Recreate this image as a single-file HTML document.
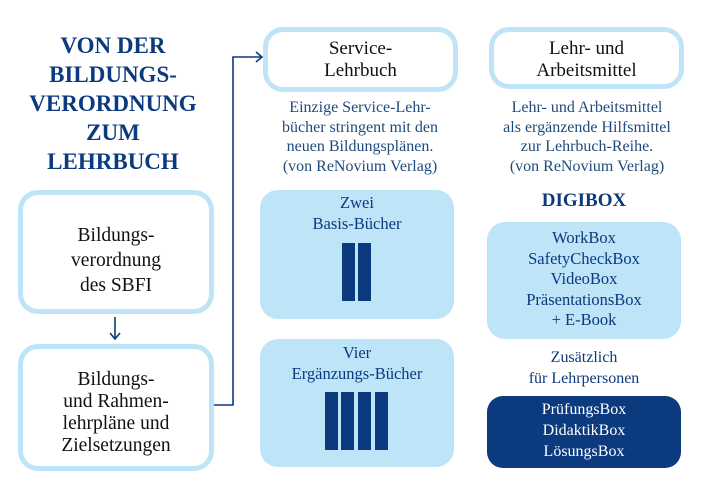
<!DOCTYPE html>
<html><head><meta charset="utf-8"><style>
body{margin:0;width:710px;height:495px;background:#fff;position:relative;overflow:hidden;font-family:"Liberation Serif",serif;}
.a{position:absolute;text-align:center;box-sizing:border-box;}
.ob{border:5px solid #bee4f8;border-radius:20px;background:#fff;color:#111;}
.fb{background:#bee4f8;border-radius:18px;color:#0b3a7e;}
.d{color:#1f4a7c;font-size:16px;line-height:19.5px;}
.bar{position:absolute;background:#0b3a7e;}
</style></head><body>
<div class="a" style="left:8px;top:31px;width:210px;font-weight:bold;color:#0b3a7e;font-size:23px;line-height:29px;">VON DER<br>BILDUNGS-<br>VERORDNUNG<br>ZUM<br>LEHRBUCH</div>

<div class="a ob" style="left:18px;top:190px;width:196px;height:124px;font-size:19.5px;line-height:25px;padding-top:28px;">Bildungs-<br>verordnung<br>des SBFI</div>
<div class="a ob" style="left:18px;top:344px;width:196px;height:127px;font-size:19.5px;line-height:22px;padding-top:20px;">Bildungs-<br>und Rahmen-<br>lehrpläne und<br>Zielsetzungen</div>

<svg style="position:absolute;left:0;top:0" width="710" height="495">
<g stroke="#0b3a7e" stroke-width="1.6" fill="none">
<line x1="115" y1="317" x2="115" y2="338"/>
<polyline points="110,333 115,339 120,333"/>
<polyline points="214,405 233,405 233,57 262,57"/>
<polyline points="256,52 262,57 256,62"/>
</g></svg>

<div class="a ob" style="left:263px;top:27px;width:195px;height:65px;font-size:19px;line-height:22px;padding-top:6px;">Service-<br>Lehrbuch</div>
<div class="a d" style="left:250px;top:98px;width:220px;">Einzige Service-Lehr-<br>bücher stringent mit den<br>neuen Bildungsplänen.<br>(von ReNovium Verlag)</div>

<div class="a fb" style="left:260px;top:190px;width:194px;height:129px;font-size:16.5px;line-height:21px;padding-top:2px;">Zwei<br>Basis-Bücher</div>
<div class="bar" style="left:342px;top:243px;width:13px;height:58px"></div>
<div class="bar" style="left:358px;top:243px;width:13px;height:58px"></div>

<div class="a fb" style="left:260px;top:339px;width:194px;height:128px;font-size:16.5px;line-height:21px;padding-top:3px;">Vier<br>Ergänzungs-Bücher</div>
<div class="bar" style="left:325px;top:392px;width:13px;height:58px"></div>
<div class="bar" style="left:341px;top:392px;width:13px;height:58px"></div>
<div class="bar" style="left:358px;top:392px;width:13px;height:58px"></div>
<div class="bar" style="left:375px;top:392px;width:13px;height:58px"></div>

<div class="a ob" style="left:489px;top:27px;width:195px;height:62px;font-size:19px;line-height:22px;padding-top:6px;">Lehr- und<br>Arbeitsmittel</div>
<div class="a d" style="left:476px;top:98px;width:222px;">Lehr- und Arbeitsmittel<br>als ergänzende Hilfsmittel<br>zur Lehrbuch-Reihe.<br>(von ReNovium Verlag)</div>

<div class="a" style="left:487px;top:190px;width:194px;font-weight:bold;color:#0b3a7e;font-size:19px;line-height:22px;">DIGIBOX</div>
<div class="a fb" style="left:487px;top:222px;width:194px;height:117px;font-size:16.5px;line-height:20.6px;padding-top:6px;">WorkBox<br>SafetyCheckBox<br>VideoBox<br>PräsentationsBox<br>+ E-Book</div>
<div class="a d" style="left:487px;top:347px;width:194px;color:#0b3a7e;line-height:21px;">Zusätzlich<br>für Lehrpersonen</div>
<div class="a" style="left:487px;top:396px;width:194px;height:72px;background:#0b3a7e;border-radius:16px;color:#fff;font-size:16px;line-height:21px;padding-top:3px;">PrüfungsBox<br>DidaktikBox<br>LösungsBox</div>
</body></html>
